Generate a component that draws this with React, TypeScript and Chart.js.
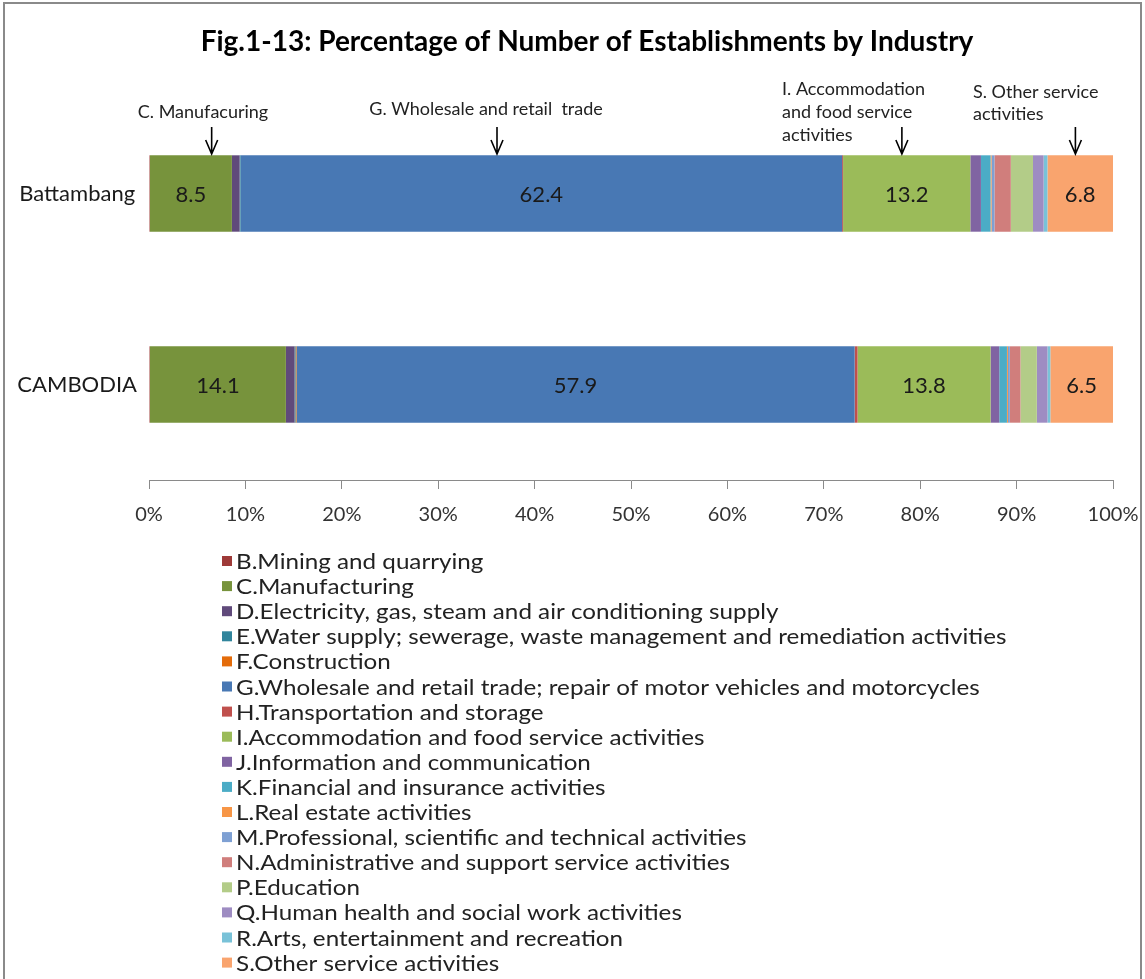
import React, { useEffect, useRef } from "react";
import { Chart, registerables } from "chart.js";

Chart.register(...registerables);

const categories = ["Battambang", "CAMBODIA"];

const industries = [
  "B.Mining and quarrying",
  "C.Manufacturing",
  "D.Electricity, gas, steam and air conditioning supply",
  "E.Water supply; sewerage, waste management and remediation activities",
  "F.Construction",
  "G.Wholesale and retail trade; repair of motor vehicles and motorcycles",
  "H.Transportation and storage",
  "I.Accommodation and food service activities",
  "J.Information and communication",
  "K.Financial and insurance activities",
  "L.Real estate activities",
  "M.Professional, scientific and technical activities",
  "N.Administrative and support service activities",
  "P.Education",
  "Q.Human health and social work activities",
  "R.Arts, entertainment and recreation",
  "S.Other service activities",
];

const battambang = [0.1, 8.5, 0.8, 0.1, 0.0, 62.4, 0.1, 13.2, 1.1, 1.0, 0.1, 0.3, 1.7, 2.3, 1.1, 0.4, 6.8];
const cambodia = [0.1, 14.1, 0.9, 0.1, 0.1, 57.9, 0.3, 13.8, 0.9, 0.8, 0.1, 0.2, 1.1, 1.7, 1.1, 0.3, 6.5];

const colors = [
  "#9E3A38", "#77933C", "#604A7B", "#31859C", "#E46C0A", "#4878B4",
  "#C0504D", "#9BBB59", "#8064A2", "#4BACC6", "#F79646", "#7EA0D3",
  "#D07E7C", "#B3CC88", "#9E8CC2", "#79C2D8", "#F9A46E",
];

const labelledIndustries = [1, 5, 7, 16];

const xTicks = [0, 10, 20, 30, 40, 50, 60, 70, 80, 90, 100];

const titleText = "Fig.1-13: Percentage of Number of Establishments by Industry";

const annotations = [
  { lines: ["C. Manufacuring"], at: 6.5, align: "center", textX: 203, textY: [112] },
  { lines: ["G. Wholesale and retail  trade"], at: 36.1, align: "center", textX: 486, textY: [109] },
  { lines: ["I. Accommodation", "and food service", "activities"], at: 78.1, align: "left", textX: 782, textY: [89, 112, 135] },
  { lines: ["S. Other service", "activities"], at: 96.1, align: "left", textX: 973, textY: [92, 114] },
];

const FONT = "Lato, 'Open Sans', sans-serif";

const overlayPlugin = {
  id: "overlay",
  afterDraw(chart: any) {
    const ctx = chart.ctx;
    const xs = chart.scales.x;
    ctx.save();
    // frame
    ctx.strokeStyle = "#8a8a8a";
    ctx.lineWidth = 2;
    ctx.beginPath();
    ctx.moveTo(4, 979);
    ctx.lineTo(4, 3);
    ctx.lineTo(1141, 3);
    ctx.lineTo(1141, 979);
    ctx.stroke();

    // title
    ctx.fillStyle = "#000";
    ctx.font = `bold 28px ${FONT}`;
    ctx.textAlign = "center";
    ctx.textBaseline = "middle";
    ctx.fillText(titleText, 587, 42);

    // annotations
    ctx.font = `18px ${FONT}`;
    ctx.fillStyle = "#222";
    for (const a of annotations) {
      ctx.textAlign = a.align as CanvasTextAlign;
      a.lines.forEach((l, i) => ctx.fillText(l, a.textX, a.textY[i]));
      const ax = xs.getPixelForValue(a.at);
      ctx.strokeStyle = "#000";
      ctx.lineWidth = 1.6;
      ctx.beginPath();
      ctx.moveTo(ax, 127);
      ctx.lineTo(ax, 154);
      ctx.moveTo(ax - 6, 140);
      ctx.lineTo(ax, 154);
      ctx.lineTo(ax + 6, 140);
      ctx.stroke();
    }

    // legend
    ctx.textAlign = "left";
    ctx.font = `22px ${FONT}`;
    chart.data.datasets.forEach((ds: any, i: number) => {
      const cy = 561 + i * 25.1;
      ctx.fillStyle = ds.backgroundColor;
      ctx.fillRect(222, cy - 5, 10, 10);
      ctx.fillStyle = "#222";
      ctx.save();
      ctx.translate(236, cy + 1);
      ctx.scale(1.1, 1);
      ctx.fillText(ds.label, 0, 0);
      ctx.restore();
    });
    ctx.restore();
  },
  afterDatasetsDraw(chart: any) {
    const ctx = chart.ctx;
    ctx.save();
    ctx.font = `22px ${FONT}`;
    ctx.fillStyle = "#1a1a1a";
    ctx.textAlign = "center";
    ctx.textBaseline = "middle";
    labelledIndustries.forEach((di) => {
      const meta = chart.getDatasetMeta(di);
      meta.data.forEach((bar: any, j: number) => {
        const v = chart.data.datasets[di].data[j];
        const p = bar.getProps(["x", "y", "base"], true);
        ctx.fillText(v.toFixed(1), (p.x + p.base) / 2, p.y + 1);
      });
    });
    ctx.restore();
  },
};

export default function App() {
  const ref = useRef<HTMLCanvasElement>(null);
  useEffect(() => {
    const datasets = industries.map((label, i) => ({
      label,
      data: [battambang[i], cambodia[i]],
      backgroundColor: colors[i],
      borderWidth: 0,
      categoryPercentage: 0.4,
      barPercentage: 1.0,
    }));
    const chart = new Chart(ref.current!, {
      type: "bar",
      data: { labels: categories, datasets },
      options: {
        indexAxis: "y",
        animation: false,
        responsive: false,
        layout: { padding: { left: 0, top: 98, right: 32, bottom: 439 } },
        plugins: { legend: { display: false }, tooltip: { enabled: false }, title: { display: false } },
        scales: {
          x: {
            stacked: true,
            min: 0,
            max: 100,
            afterBuildTicks: (s: any) => { s.ticks = xTicks.map((v) => ({ value: v })); },
            afterFit: (s: any) => { s.height = 60; s.paddingLeft = 0; s.paddingRight = 0; },
            ticks: {
              callback: (v: any) => v + "%",
              font: { family: FONT, size: 20 },
              color: "#333",
              padding: 14,
              maxRotation: 0,
            },
            grid: { display: true, drawOnChartArea: false, drawTicks: true, tickLength: 9, color: "#8a8a8a" },
            border: { display: true, color: "#8a8a8a", width: 1 },
          },
          y: {
            stacked: true,
            afterFit: (s: any) => { s.width = 149; },
            ticks: { font: { family: FONT, size: 22 }, color: "#1a1a1a", padding: 4, crossAlign: "center" },
            grid: { display: false },
            border: { display: false },
          },
        },
      },
      plugins: [overlayPlugin],
    });
    return () => chart.destroy();
  }, []);
  return (
    <div style={{ position: "fixed", left: 0, top: 0, width: 1145, height: 979, background: "#fff" }}>
      <canvas ref={ref} width={1145} height={979} style={{ display: "block" }} />
    </div>
  );
}
